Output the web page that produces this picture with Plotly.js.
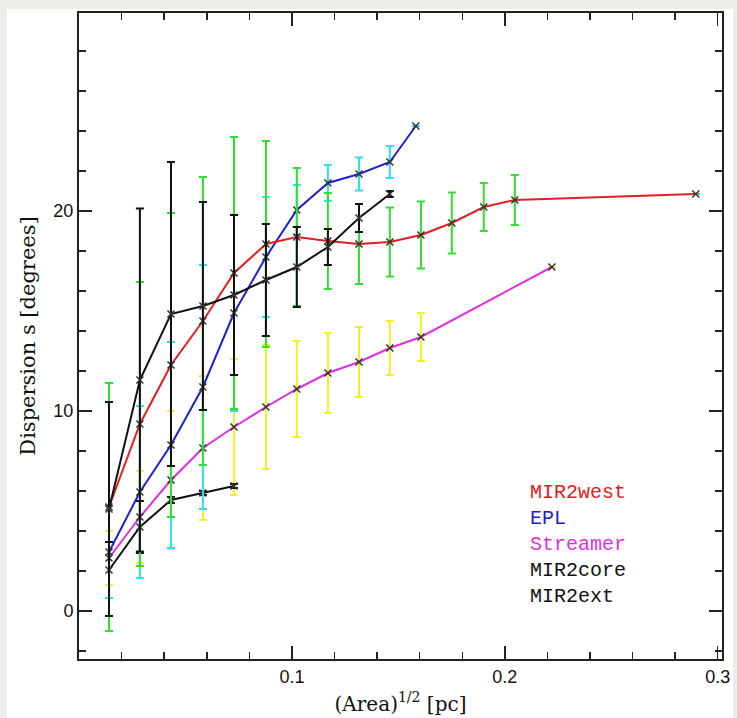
<!DOCTYPE html>
<html>
<head>
<meta charset="utf-8">
<script src="https://cdn.plot.ly/plotly-3.0.1.min.js"></script>
<style>
  html, body { margin: 0; padding: 0; background: #eeece8; width: 737px; height: 718px; overflow: hidden; }
  #chart { position: absolute; left: 7px; top: 9px; width: 726px; height: 709px; background: #fff; }
</style>
</head>
<body>
<div id="chart"></div>
<script>
// ---- data ----
const westX   = [0.0141, 0.0286, 0.0432, 0.0582, 0.0728, 0.0878, 0.1023, 0.1169, 0.1315, 0.1460, 0.1606, 0.1751, 0.1901, 0.2047, 0.2897];
const westY   = [5.2, 9.35, 12.3, 14.5, 16.9, 18.35, 18.7, 18.5, 18.35, 18.45, 18.8, 19.4, 20.2, 20.55, 20.85];
const westErr = [6.2, 7.1, 7.6, 7.2, 6.8, 5.15, 3.45, 2.4, 2.0, 1.73, 1.68, 1.52, 1.2, 1.25, null];

const eplX    = [0.0141, 0.0286, 0.0432, 0.0582, 0.0728, 0.0878, 0.1023, 0.1169, 0.1315, 0.1460, 0.1582];
const eplY    = [2.95, 5.95, 8.3, 11.2, 14.9, 17.7, 20.05, 21.4, 21.85, 22.45, 24.25];
const eplErr  = [2.3, 4.3, 5.15, 6.1, 4.9, 3.0, 1.25, 0.9, 0.83, 0.8, null];

const strX    = [0.0141, 0.0286, 0.0432, 0.0582, 0.0728, 0.0878, 0.1023, 0.1169, 0.1315, 0.1460, 0.1606, 0.2221];
const strY    = [2.65, 4.7, 6.55, 8.15, 9.2, 10.2, 11.1, 11.9, 12.45, 13.15, 13.7, 17.2];
const strErr  = [1.35, 2.3, 3.45, 3.6, 3.4, 3.1, 2.4, 2.0, 1.75, 1.35, 1.2, null];

const coreX   = [0.0141, 0.0286, 0.0432, 0.0582, 0.0728];
const coreY   = [2.05, 4.2, 5.55, 5.9, 6.25];
const coreErr = [1.4, 1.3, 0.15, 0.1, 0.1];

const extX    = [0.0141, 0.0286, 0.0432, 0.0582, 0.0728, 0.0878, 0.1023, 0.1169, 0.1315, 0.1460];
const extY    = [5.1, 11.55, 14.85, 15.25, 15.8, 16.55, 17.2, 18.2, 19.65, 20.85];
const extErr  = [5.35, 8.57, 7.6, 5.2, 4.0, 2.8, 2.0, 0.9, 0.7, 0.15];

const legendNames  = ["MIR2west", "EPL", "Streamer", "MIR2core", "MIR2ext"];
const legendColors = ["#e02020", "#2020d0", "#e030e0", "#111111", "#111111"];

const xTickVals = [0.1, 0.2, 0.3];
const xTickText = ["0.1", "0.2", "0.3"];
const yTickVals = [0, 10, 20];
const yTickText = ["0", "10", "20"];

// ---- traces ----
function series(x, y, err, lineColor, errColor) {
  return {
    type: "scatter", mode: "lines+markers", x: x, y: y,
    line: { color: lineColor, width: 2 },
    marker: { symbol: "x-thin", size: 7, color: "#333", line: { color: "#333", width: 1.5 } },
    error_y: { type: "data", array: err, visible: true, color: errColor, thickness: 2, width: 4 },
    hoverinfo: "skip", showlegend: false
  };
}

const data = [
  series(strX, strY, strErr, "#e030e0", "#f2f028"),
  series(coreX, coreY, coreErr, "#111111", "#111111"),
  series(eplX, eplY, eplErr, "#2020d0", "#30e0e8"),
  series(westX, westY, westErr, "#e02020", "#30e030"),
  series(extX, extY, extErr, "#111111", "#111111")
];

const annotations = legendNames.map((t, i) => ({
  text: t, xref: "paper", yref: "paper",
  x: (528 - 79) / (722 - 79), y: 1 - ((492 + i * 26) - 13) / (659 - 13),
  xanchor: "left", yanchor: "middle", showarrow: false,
  font: { family: "Liberation Mono, monospace", size: 20, color: legendColors[i] }
}));

const axisCommon = {
  showgrid: false, zeroline: false, showline: true, linecolor: "#222", linewidth: 2,
  mirror: "ticks", ticks: "inside", ticklen: 13, tickwidth: 1.5, tickcolor: "#222",
  tickfont: { family: "Liberation Sans, Arial, sans-serif", size: 18, color: "#111" }
};

const layout = {
  width: 726, height: 709,
  margin: { l: 72, r: 11, t: 4, b: 59 },
  paper_bgcolor: "#ffffff", plot_bgcolor: "#ffffff",
  xaxis: Object.assign({}, axisCommon, {
    range: [0, 0.302], tickmode: "array", tickvals: xTickVals, ticktext: xTickText,
    minor: { dtick: 0.02, tick0: 0, ticks: "inside", ticklen: 7, tickwidth: 1.5, tickcolor: "#222" },
    title: { text: "(Area)<sup>1/2</sup> [pc]", standoff: 11,
             font: { family: "DejaVu Serif, serif", size: 20, color: "#111" } }
  }),
  yaxis: Object.assign({}, axisCommon, {
    range: [-2.4, 29.9], tickmode: "array", tickvals: yTickVals, ticktext: yTickText,
    minor: { dtick: 2, tick0: 0, ticks: "inside", ticklen: 7, tickwidth: 1.5, tickcolor: "#222" },
    title: { text: "Dispersion s [degrees]", standoff: 12,
             font: { family: "DejaVu Serif, serif", size: 21, color: "#111" } }
  }),
  annotations: annotations
};

Plotly.newPlot("chart", data, layout, { staticPlot: true, displayModeBar: false });
</script>
</body>
</html>
